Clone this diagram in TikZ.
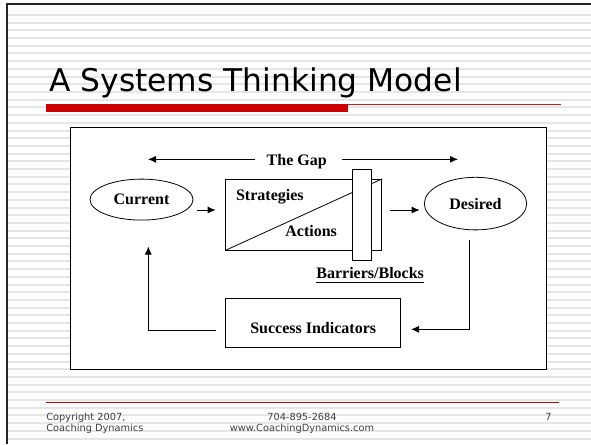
\documentclass[tikz,border=0pt]{standalone}
\usepackage{fontspec}
\setmainfont{Liberation Serif}
\newfontfamily\slidefont{DejaVu Sans}
\usepackage{tikz}
\usetikzlibrary{arrows.meta}
\usetikzlibrary{shapes.geometric}
\usetikzlibrary{positioning}
\definecolor{slidered}{HTML}{CC0000}
\definecolor{stripe}{HTML}{E6E6E6}
\definecolor{footgray}{HTML}{404040}

\begin{document}
\begin{tikzpicture}[x=1pt,y=-1pt,
      >={Latex[length=8pt,width=7pt]},
      line width=0.8pt,
      goal/.style={ellipse,draw,inner sep=0pt,
        font=\fontsize{16}{19}\selectfont\bfseries},
      box/.style={rectangle,draw,inner sep=0pt},
      word/.style={inner sep=0pt,
        font=\fontsize{16}{19}\selectfont\bfseries},
      foot/.style={inner sep=0pt,text=footgray,
        font=\slidefont\fontsize{9.8}{11}\selectfont}]

    % slide background
    \useasboundingbox (0,0) rectangle (591,444);
    \fill[white] (0,0) rectangle (591,444);
    \foreach \i in {0,...,55}
      \fill[stripe] (8,15+7.7*\i-1) rectangle (591,15+7.7*\i+1);
    \draw[line width=2pt,black!85] (7,444) -- (7,4) -- (591,4);

    % title
    \node[anchor=base west,inner sep=0pt,
      font=\slidefont\fontsize{31.3}{36}\selectfont]
      (Title) at (49,91.7) {A Systems Thinking Model};
    \fill[slidered] (46,104) rectangle (347.5,111.7);
    \draw[slidered!90!white] (347.5,104.5) -- (560.5,104.5);

    % white panel
    \node[box,fill=white,minimum width=476,minimum height=241.7]
      (Panel) at (308.5,248.2) {};

    % model
    \node[goal,minimum width=103,minimum height=41]
      (Current) at (141.5,199.6) {Current};
    \node[goal,minimum width=102.4,minimum height=52.6]
      (Desired) at (475.5,203.6) {Desired};
    \node[box,minimum width=156,minimum height=70.7]
      (Plan) at (303.7,214.65) {};
    \draw (Plan.south west) -- (Plan.north east);
    \node[box,fill=white,minimum width=19,minimum height=90.7]
      (Barrier) at (361.5,214.65) {};
    \node[word,anchor=base west] (Strategies) at (235.7,200.7) {Strategies};
    \node[word,anchor=base west] (Actions) at (285,236) {Actions};
    \node[word,anchor=base west] (Blocks) at (316,278.3) {Barriers/Blocks};
    \draw[line width=1.3pt]
      ([yshift=-4.3pt]Blocks.base west) -- ([yshift=-4.3pt]Blocks.base east);
    \node[box,minimum width=175,minimum height=49.4]
      (Indicators) at (313.2,323) {};
    \node[word,anchor=base] (IndText) at (313.2,333.3) {Success Indicators};
    \node[word,anchor=base] (Gap) at (296.7,165) {The Gap};

    % connector ends
    \coordinate (gapL) at (148,159.3);
    \coordinate (gapR) at (458,159.3);
    \coordinate (row) at (0,210);
    \coordinate (fbR) at (469,329.3);
    \coordinate (fbL) at (148.3,330.7);

    \draw[->,shorten <=11.7pt] (Gap.west |- gapL) -- (gapL);
    \draw[->,shorten <=15pt] (Gap.east |- gapR) -- (gapR);
    \draw[->,shorten <=4pt,shorten >=9.7pt]
      (Current.east |- row) -- (Plan.west |- row);
    \draw[->,shorten <=8.3pt,shorten >=4.3pt]
      (Plan.east |- row) -- (Desired.west |- row);
    \draw[->,shorten <=10pt,shorten >=10pt]
      (fbR |- Desired.south) -- (fbR) -- (Indicators.east |- fbR);
    \draw[->,shorten <=9pt,shorten >=26pt]
      (Indicators.west |- fbL) -- (fbL) -- (fbL |- Current.south);

    % footer
    \draw[slidered] (46,402.7) -- (559,402.7);
    \node[foot,anchor=base west] (Copy) at (46,420.7) {Copyright 2007,};
    \node[foot,anchor=base west] (Firm) at (46,431.5) {Coaching Dynamics};
    \node[foot,anchor=base] (Phone) at (302,420.7) {704-895-2684};
    \node[foot,anchor=base] (Web) at (302,431.5) {www.CoachingDynamics.com};
    \node[foot,anchor=base east] (Page) at (552,420.7) {7};

  \end{tikzpicture}
\end{document}
